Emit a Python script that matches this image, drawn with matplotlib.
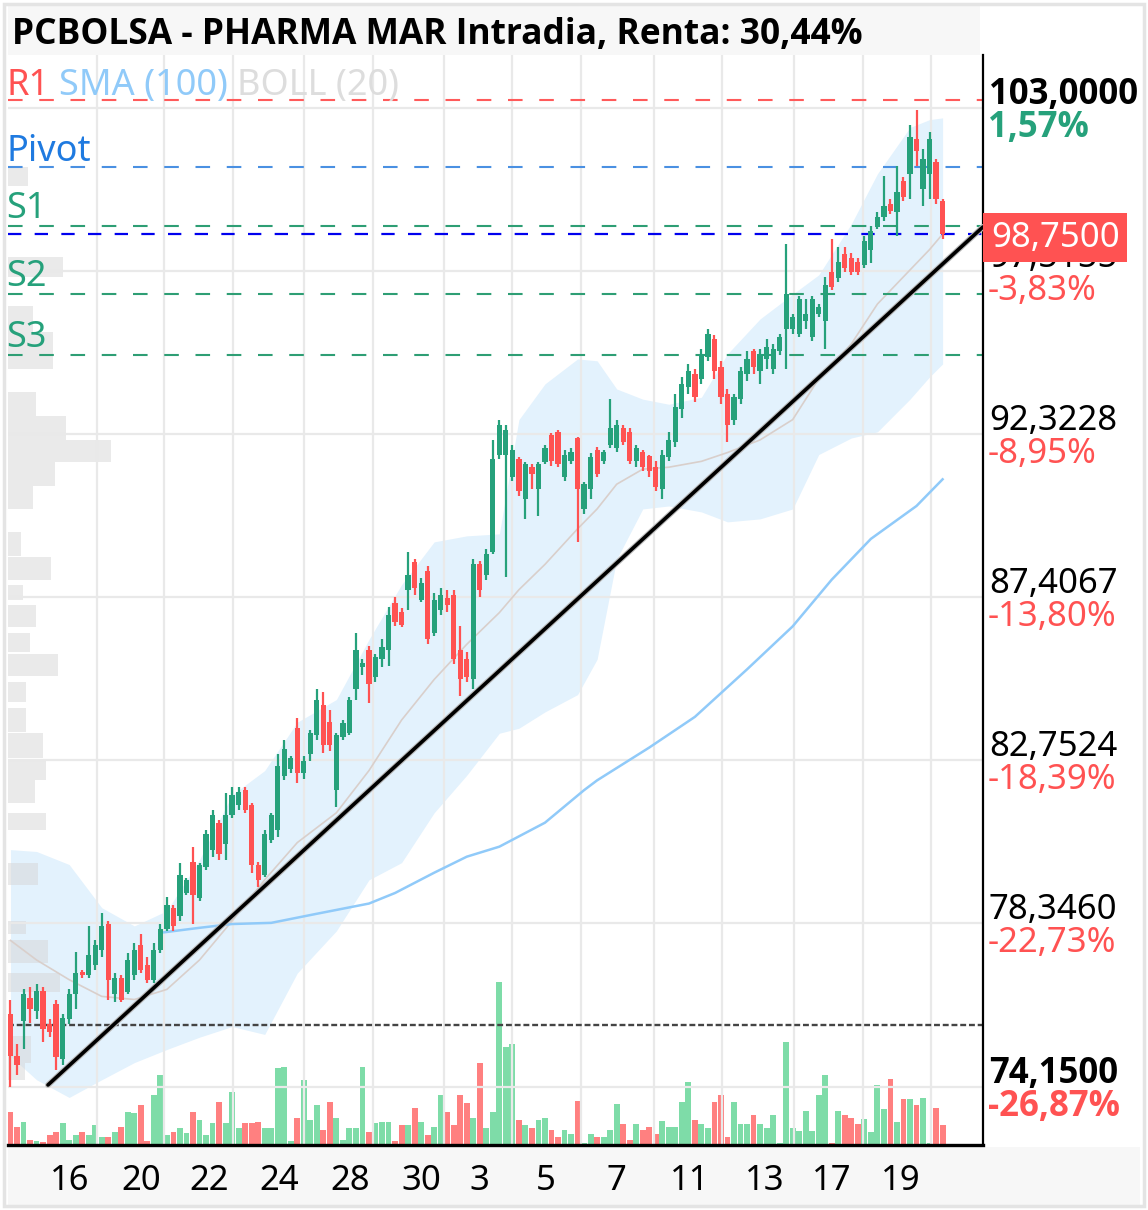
import matplotlib
matplotlib.use('Agg')
import matplotlib.pyplot as plt
import matplotlib.transforms as mtransforms
import matplotlib.font_manager as fm
from matplotlib.patches import Rectangle
from matplotlib.ticker import NullLocator
import numpy as np

plt.rcParams['font.family'] = ['Noto Sans', 'DejaVu Sans']


def _has_bold(fam):
    for f in fm.fontManager.ttflist:
        if f.name != fam:
            continue
        w = f.weight
        if isinstance(w, str):
            if w.lower() in ('bold', 'heavy', 'black', 'extra bold', 'semibold', 'demibold'):
                return True
            try:
                w = int(w)
            except ValueError:
                continue
        if w >= 600:
            return True
    return False


BOLD_FAMILY = next((f for f in ['Noto Sans', 'Open Sans', 'Roboto', 'Lato', 'DejaVu Sans'] if _has_bold(f)),
                   'DejaVu Sans')

# ---------------- data ----------------
opens = [75.98, 74.92, 75.80, 76.41, 76.06, 76.57, 75.73, 76.24, 74.84, 75.85,
         76.49, 77.07, 76.99, 77.25, 77.63, 78.32, 76.49, 76.92, 76.54, 76.99,
         77.76, 77.25, 76.87, 77.63, 78.19, 78.75, 78.54, 79.14, 79.98, 79.00,
         79.82, 80.30, 81.03, 80.44, 81.25, 81.52, 81.92, 81.52, 79.90, 79.63,
         80.57, 80.84, 82.32, 82.51, 83.64, 82.40, 82.93, 83.44, 84.30, 83.81,
         81.92, 83.39, 83.50, 84.74, 85.37, 85.88, 85.08, 85.60, 85.88, 87.23,
         86.97, 87.62, 88.43, 87.32, 88.16, 86.37, 87.03, 87.38, 87.47, 85.88,
         85.60, 85.02, 88.37, 88.07, 88.74, 91.69, 91.69, 90.99, 91.54, 90.33,
         91.30, 90.63, 91.45, 92.29, 92.39, 90.99, 91.48, 92.20, 90.03, 90.63,
         91.84, 91.48, 91.99, 91.90, 92.52, 92.39, 91.48, 91.78, 91.63, 91.30,
         90.63, 91.60, 92.08, 93.09, 93.79, 94.21, 94.05, 94.74, 95.32, 94.43,
         93.57, 92.77, 93.41, 94.21, 94.94, 94.30, 94.68, 94.37, 94.94, 95.64,
         95.64, 95.48, 95.89, 95.38, 96.12, 95.89, 97.49, 97.30, 98.06, 97.95,
         97.82, 97.72, 98.22, 98.97, 99.30, 99.74, 99.47, 100.51, 100.75, 101.92,
         100.24, 100.75, 101.15, 99.84]
closes = [74.92, 74.71, 76.49, 76.11, 76.57, 75.60, 75.52, 74.89, 75.90, 76.49,
          77.04, 76.99, 77.50, 77.76, 78.27, 76.87, 76.92, 76.36, 77.38, 77.63,
          77.12, 76.87, 77.63, 78.19, 78.81, 78.27, 79.63, 79.49, 79.09, 79.90,
          80.71, 81.25, 80.17, 81.25, 81.79, 81.87, 81.38, 79.90, 79.49, 80.71,
          81.25, 82.59, 83.07, 82.81, 82.40, 82.73, 83.50, 84.45, 83.16, 83.16,
          83.44, 83.79, 84.45, 85.88, 85.48, 84.88, 85.66, 85.94, 86.89, 86.69,
          86.60, 88.07, 87.68, 87.83, 86.17, 87.32, 87.47, 87.17, 85.60, 85.02,
          85.08, 88.37, 87.62, 88.68, 91.54, 92.61, 92.45, 91.84, 90.57, 91.39,
          91.09, 91.39, 91.90, 91.48, 91.39, 91.69, 91.78, 90.63, 90.78, 91.60,
          91.09, 91.78, 92.52, 92.61, 92.08, 91.48, 91.90, 91.30, 91.18, 90.69,
          91.69, 92.14, 93.15, 93.89, 94.30, 93.47, 94.84, 95.48, 94.30, 93.47,
          92.61, 93.47, 94.30, 94.68, 94.43, 94.84, 95.06, 95.00, 95.38, 96.75,
          96.02, 96.60, 96.12, 96.60, 96.34, 97.07, 97.01, 97.82, 97.62, 97.49,
          97.49, 98.49, 98.83, 99.30, 99.67, 99.50, 100.14, 99.97, 101.99, 101.52,
          101.25, 101.92, 99.91, 98.75]
highs = [76.36, 75.22, 76.62, 76.69, 76.75, 76.67, 75.85, 76.36, 75.98, 76.62,
         77.58, 77.12, 78.27, 77.89, 78.62, 78.40, 77.04, 76.99, 77.55, 77.81,
         78.06, 77.45, 77.81, 78.32, 79.03, 78.81, 79.95, 79.55, 80.38, 79.95,
         80.84, 81.38, 81.11, 81.84, 82.00, 82.00, 82.00, 81.57, 79.98, 80.84,
         81.30, 82.92, 83.30, 82.87, 83.93, 82.87, 83.59, 84.74, 84.65, 84.16,
         83.50, 83.87, 84.51, 86.37, 85.60, 85.97, 85.74, 86.17, 87.12, 87.41,
         87.09, 88.74, 88.52, 87.98, 88.31, 87.53, 87.68, 87.62, 87.62, 86.55,
         85.80, 88.52, 88.46, 88.83, 92.14, 92.77, 92.61, 91.99, 91.60, 91.45,
         91.39, 91.45, 91.99, 92.36, 92.45, 91.84, 91.90, 92.23, 90.84, 91.75,
         91.93, 91.84, 93.41, 92.77, 92.61, 92.52, 91.99, 91.84, 91.69, 91.48,
         91.84, 92.39, 93.57, 94.11, 94.52, 94.37, 95.00, 95.64, 95.45, 94.62,
         93.73, 93.57, 94.43, 94.94, 95.00, 95.00, 95.32, 95.16, 95.48, 98.39,
         96.12, 96.69, 96.60, 96.69, 96.44, 97.33, 98.56, 98.32, 98.32, 98.12,
         97.95, 98.66, 99.00, 99.47, 100.68, 99.91, 101.01, 100.64, 102.43, 102.93,
         101.59, 102.16, 101.25, 99.91]
lows = [74.15, 74.46, 75.09, 75.77, 75.85, 75.27, 75.40, 74.58, 74.71, 75.73,
        76.11, 76.92, 76.92, 77.12, 77.45, 76.36, 76.29, 76.29, 76.49, 76.87,
        77.04, 76.79, 76.79, 77.55, 78.14, 78.14, 78.40, 79.09, 78.32, 78.94,
        79.76, 80.11, 80.03, 80.03, 81.16, 81.38, 81.30, 79.68, 79.30, 79.57,
        80.49, 80.65, 82.19, 82.40, 82.13, 82.24, 82.73, 83.30, 82.96, 83.01,
        81.46, 83.30, 83.44, 84.45, 85.14, 84.36, 84.96, 85.37, 85.40, 86.55,
        86.52, 87.03, 87.47, 87.26, 86.03, 86.26, 86.89, 86.97, 85.45, 84.54,
        84.96, 84.74, 87.41, 87.92, 88.68, 91.54, 88.01, 90.87, 90.42, 89.73,
        90.63, 89.82, 91.39, 91.33, 91.30, 90.87, 91.39, 89.04, 89.88, 90.33,
        90.99, 91.39, 91.90, 91.78, 91.99, 91.39, 91.30, 91.18, 90.99, 90.57,
        90.33, 91.48, 91.93, 92.83, 93.57, 93.31, 93.89, 94.62, 94.05, 93.25,
        92.08, 92.61, 93.25, 93.98, 94.21, 93.89, 94.37, 94.21, 94.81, 94.37,
        95.48, 95.38, 95.64, 95.25, 96.02, 95.00, 96.91, 97.17, 97.49, 97.39,
        97.39, 97.62, 97.79, 98.90, 99.17, 99.40, 98.66, 99.84, 99.91, 101.01,
        99.67, 99.91, 99.74, 98.56]
volumes = [33, 18, 23, 5, 4, 3, 10, 13, 22, 5,
           10, 13, 10, 20, 8, 8, 13, 18, 33, 32,
           40, 4, 50, 70, 10, 13, 17, 12, 33, 25,
           10, 22, 43, 22, 53, 17, 22, 22, 23, 17,
           17, 77, 78, 4, 27, 65, 25, 40, 15, 43,
           27, 5, 17, 17, 78, 13, 22, 23, 23, 4,
           20, 20, 37, 23, 10, 18, 50, 33, 20, 50,
           42, 27, 82, 17, 33,
           163, 98, 101, 25, 20, 17, 25, 27, 15, 8,
           15, 11, 44, 2, 11, 8, 8, 15, 41, 21,
           5, 21, 15, 18, 11, 24, 18, 18, 43,
           63, 25, 21, 17, 43, 50, 8, 43, 21, 21,
           30, 21, 17, 30, 2, 103, 17, 14, 34, 14,
           50, 70, 2, 34, 30, 27, 21, 26, 13, 60,
           36, 66, 23, 46, 46, 40, 47, 2, 37, 20]

# Bollinger (20) band read at candle indices
bb_idx = [0, 4, 9, 14, 19, 24, 29, 34, 39, 44, 50, 55, 60, 65, 70, 75, 78, 82, 87, 90,
          93, 97, 101, 106, 110, 115, 120, 124, 129, 133, 138, 141, 143]
bb_upper = [80.30, 80.25, 79.90, 78.75, 78.27, 78.67, 80.03, 81.79, 82.46, 83.81,
            84.45, 86.17, 87.77, 89.04, 89.22, 89.28, 92.77, 93.89, 94.68, 94.62,
            93.73, 93.41, 93.25, 93.47, 94.84, 95.96, 96.76, 97.39, 99.07, 100.75,
            102.33, 102.60, 102.66]
bb_mid = [77.89, 77.38, 76.87, 76.44, 76.36, 76.62, 77.38, 78.40, 79.49, 80.49,
          81.30, 82.46, 83.87, 85.02, 86.03, 86.95, 87.62, 88.37, 89.43, 90.03,
          90.78, 91.24, 91.30, 91.48, 91.75, 92.14, 92.77, 94.05, 95.16, 96.44,
          97.55, 98.22, 98.73]
bb_lower = [74.92, 74.33, 73.89, 74.33, 74.76, 75.09, 75.40, 75.67, 75.47, 77.04,
            78.14, 79.49, 79.95, 81.30, 82.33, 83.50, 83.64, 84.10, 84.59, 85.60,
            88.52, 90.03, 90.12, 89.94, 89.64, 89.73, 90.03, 91.69, 92.20, 92.39,
            93.41, 94.11, 94.52]

# SMA (100) read at candle indices
sma_idx = [23, 29, 34, 40, 47, 55, 59, 65, 70, 75, 82, 88, 90, 98, 105, 113, 120, 126, 132, 139, 143]
sma_vals = [78.09, 78.22, 78.32, 78.35, 78.59, 78.86, 79.14, 79.68, 80.11, 80.38, 81.03,
            81.92, 82.19, 83.10, 83.96, 85.31, 86.55, 87.92, 89.13, 90.12, 90.93]

# volume profile (price bins)
vp_low = [100.34, 97.32, 95.54, 94.37, 92.87, 92.14, 91.45, 90.72, 90.03, 88.62,
          87.92, 87.32, 86.52, 85.80, 85.11, 84.39, 83.53, 82.81, 82.19, 81.57,
          80.84, 79.36, 78.06, 77.30, 76.54, 74.76, 74.33]
vp_high = [100.98, 97.99, 96.38, 95.54, 93.64, 92.87, 92.14, 91.45, 90.72, 89.34,
           88.58, 87.77, 87.17, 86.37, 85.74, 84.96, 84.22, 83.50, 82.78, 82.19,
           81.30, 79.95, 78.40, 77.89, 77.04, 75.42, 74.76]
vp_vol = [20, 55, 25, 45, 28, 58, 103, 47, 25, 13, 43, 15, 28, 22, 50, 18, 18, 35, 38, 27,
          38, 30, 18, 40, 52, 23, 17]

# levels
r1_level = 103.29
pivot_level = 100.99
s1_level = 99.01
s2_level = 96.76
s3_level = 94.81
last_price = 98.75
ref_level = 75.70

# trend line endpoints (candle index, price)
trend_x = [5.75, 149.2]
trend_y = [74.20, 98.97]

# axis labels
day_labels = ['16', '20', '22', '24', '28', '30', '3', '5', '7', '11', '13', '17', '19']
day_label_pos = [9.1, 20.0, 30.4, 41.3, 52.1, 63.0, 71.9, 82.1, 93.0, 104.2, 115.7, 126.0, 136.6]
grid_x = [13.3, 23.5, 34.1, 45.0, 55.6, 66.5, 76.9, 87.5, 98.7, 109.1, 120.2, 130.8, 141.2]

price_ticks = [103.0, 97.5155, 92.3228, 87.4067, 82.7524, 78.3460, 74.15]
price_labels = ['103,0000', '97,5155', '92,3228', '87,4067', '82,7524', '78,3460', '74,1500']
pct_labels = ['1,57%', '-3,83%', '-8,95%', '-13,80%', '-18,39%', '-22,73%', '-26,87%']

title = 'PCBOLSA - PHARMA MAR Intradia, Renta: 30,44%'

# ---------------- style ----------------
GREEN = '#26a17b'
RED = '#ff5252'
VGREEN = '#7edca8'
VRED = '#ff8080'
GRID = '#e9e9e9'

W, H = 1148, 1210
fig = plt.figure(figsize=(W / 100, H / 100), dpi=100)
fig.patch.set_facecolor('white')

L, R, T, B = 8, 983, 55, 1145
rect = [L / W, 1 - B / H, (R - L) / W, (B - T) / H]

# header / footer backgrounds and frame
fig.add_artist(Rectangle((8 / W, 1 - 55 / H), 972 / W, 50 / H, transform=fig.transFigure,
                         facecolor='#f7f7f7', edgecolor='none', zorder=0))
fig.add_artist(Rectangle((8 / W, 1 - 1205 / H), 1132 / W, 58 / H, transform=fig.transFigure,
                         facecolor='#f7f7f7', edgecolor='none', zorder=0))
fig.add_artist(Rectangle((4 / W, 4 / H), 1140 / W, 1202 / H, transform=fig.transFigure,
                         facecolor='none', edgecolor='#e4e4e4', lw=2.5, zorder=0))

fig.text(12 / W, 1 - 44 / H, title, fontsize=25.5, fontweight='bold', color='black',
         family=[BOLD_FAMILY, 'DejaVu Sans'], ha='left', va='baseline')

vax = fig.add_axes(rect)
ax = fig.add_axes(rect, sharex=vax)
ax.patch.set_visible(False)

N = len(closes)
x = np.arange(N)
o = np.array(opens); c = np.array(closes); h = np.array(highs); lo = np.array(lows)
up = c >= o
cols = [GREEN if u else RED for u in up]
vcols = [VGREEN if u else VRED for u in up]

# volume
vax.bar(x, volumes, width=0.9, color=vcols, linewidth=0)
vax.set_ylim(0, 1090)
vax.set_yticks([])
for s in vax.spines.values():
    s.set_visible(False)
vax.tick_params(axis='x', which='both', length=0, labelbottom=False)

# price axis
ax.set_yscale('log')
ax.set_ylim(72.72, 104.85)
ax.set_xlim(-0.38, 149.2)

ax.set_yticks(price_ticks)
ax.yaxis.set_minor_locator(NullLocator())
ax.tick_params(axis='y', which='both', length=0, labelleft=False, labelright=False)
ax.set_xticks(day_label_pos)
ax.set_xticklabels(day_labels)
ax.set_xticks(grid_x, minor=True)
ax.tick_params(axis='x', which='both', length=0, labelsize=25, pad=14)
ax.grid(which='minor', axis='x', color=GRID, lw=1.6, zorder=0.5)
ax.grid(which='major', axis='y', color=GRID, lw=1.6, zorder=0.5)
ax.grid(which='major', axis='x', visible=False)
ax.set_axisbelow(True)

for side in ['top', 'left']:
    ax.spines[side].set_visible(False)
ax.spines['right'].set_color('black'); ax.spines['right'].set_linewidth(1.6)
ax.spines['bottom'].set_color('black'); ax.spines['bottom'].set_linewidth(2.4)

# volume profile
vp_tr = mtransforms.blended_transform_factory(ax.transAxes, ax.transData)
vp_h = np.array(vp_high) - np.array(vp_low)
ax.barh(vp_low, np.array(vp_vol) / 975.0, height=vp_h, left=0, align='edge',
        transform=vp_tr, color='#d6d6d6', alpha=0.5, linewidth=0, zorder=0.3)

# Bollinger band
ax.fill_between(bb_idx, bb_lower, bb_upper, color='#e3f2fd', lw=0, zorder=0.2)
ax.plot(bb_idx, bb_mid, color='#d9cfcb', lw=1.2, zorder=1)
# SMA 100
ax.plot(sma_idx, sma_vals, color='#90caf9', lw=1.8, zorder=1.2)

# level lines
ax.axhline(r1_level, color='#ff5a5a', lw=1.5, ls=(0, (7, 8)), zorder=2)
ax.axhline(pivot_level, color='#4a90e2', lw=1.5, ls=(0, (7, 8)), zorder=2)
for lv in [s1_level, s2_level, s3_level]:
    ax.axhline(lv, color='#2e9e74', lw=1.5, ls=(0, (7, 8)), zorder=2)
ax.axhline(last_price, color='#0000ee', lw=1.6, ls=(0, (6, 6)), zorder=2)
ax.axhline(ref_level, color='#444444', lw=1.7, ls=(0, (2.5, 1.2)), zorder=2)

# candles
ax.vlines(x, lo, h, colors=cols, lw=1.6, zorder=3)
body_lo = np.minimum(o, c)
body_h = np.maximum(np.abs(c - o), 0.05)
ax.bar(x, body_h, bottom=body_lo, width=0.8, color=cols, linewidth=0, zorder=3)

# trend line
ax.plot(trend_x, trend_y, color='#bbbbbb', lw=4.2, zorder=3.9, solid_capstyle='round', clip_on=False)
ax.plot(trend_x, trend_y, color='black', lw=2.6, zorder=4, solid_capstyle='round', clip_on=False)

# level labels
lab_tr = ('axes fraction', 'data')
ax.annotate('R1', xy=(0, r1_level), xycoords=lab_tr, xytext=(-1, 5), textcoords='offset pixels',
            color='#ff5252', fontsize=26, va='baseline', ha='left')
ax.annotate('SMA (100)', xy=(0, r1_level), xycoords=lab_tr, xytext=(51, 5), textcoords='offset pixels',
            color='#90caf9', fontsize=26, va='baseline', ha='left')
ax.annotate('BOLL (20)', xy=(0, r1_level), xycoords=lab_tr, xytext=(229, 5), textcoords='offset pixels',
            color='#dddddd', fontsize=26, va='baseline', ha='left')
ax.annotate('Pivot', xy=(0, pivot_level), xycoords=lab_tr, xytext=(-2, 6), textcoords='offset pixels',
            color='#1f7ae0', fontsize=26, va='baseline', ha='left')
for name, lv in [('S1', s1_level), ('S2', s2_level), ('S3', s3_level)]:
    ax.annotate(name, xy=(0, lv), xycoords=lab_tr, xytext=(-2, 8), textcoords='offset pixels',
                color='#26a17b', fontsize=26, va='baseline', ha='left')

# right price labels
for i, (p, pl, pc) in enumerate(zip(price_ticks, price_labels, pct_labels)):
    bold = (i == 0 or i == len(price_ticks) - 1)
    fam = [BOLD_FAMILY, 'DejaVu Sans'] if bold else ['Noto Sans', 'DejaVu Sans']
    ax.annotate(pl, xy=(1, p), xycoords=lab_tr, xytext=(6, 4), textcoords='offset pixels',
                fontsize=25, color='black', fontweight='bold' if bold else 'normal', family=fam,
                va='baseline', ha='left', annotation_clip=False, zorder=5)
    pcol = GREEN if not pc.startswith('-') else RED
    ax.annotate(pc, xy=(1, p), xycoords=lab_tr, xytext=(5, -29), textcoords='offset pixels',
                fontsize=25, color=pcol, fontweight='bold' if bold else 'normal', family=fam,
                va='baseline', ha='left', annotation_clip=False, zorder=5)

# last price box
ax.annotate('98,7500', xy=(1, last_price), xycoords=lab_tr, xytext=(8, -4), textcoords='offset pixels',
            fontsize=25, color='white', va='center', ha='left', annotation_clip=False, zorder=10,
            bbox=dict(boxstyle='square,pad=0.22', fc='#ff5252', ec='none'))

fig.savefig('out.png', dpi=100)
